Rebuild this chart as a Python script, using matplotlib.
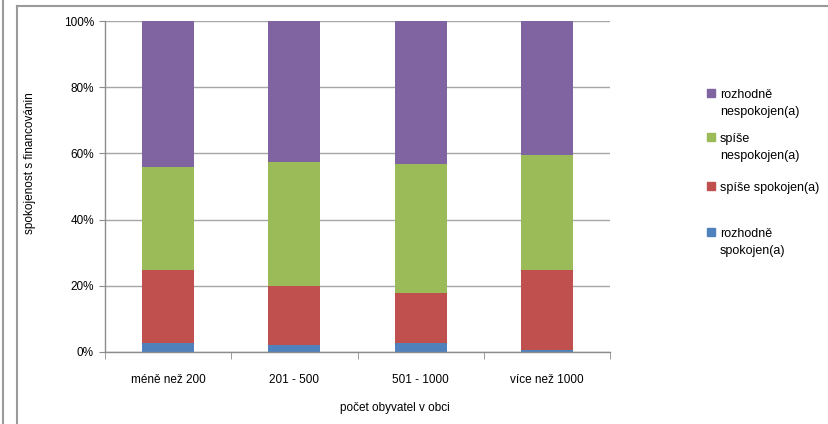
import matplotlib
matplotlib.use('Agg')
import matplotlib.pyplot as plt
import numpy as np
from matplotlib.lines import Line2D
from matplotlib.patches import Rectangle
from matplotlib.ticker import FixedLocator, PercentFormatter

plt.rcParams['font.family'] = ['Liberation Sans', 'DejaVu Sans']
plt.rcParams['font.size'] = 8.5

# data (percent)
categories = ['méně než 200', '201 - 500', '501 - 1000', 'více než 1000']
rozhodne_spokojen = [2.8, 2.1, 2.8, 0.7]
spise_spokojen = [22.0, 17.9, 15.0, 24.1]
spise_nespokojen = [31.1, 37.4, 39.0, 34.7]
rozhodne_nespokojen = [44.1, 42.6, 43.2, 40.5]

series = [
    ('rozhodně\nspokojen(a)', rozhodne_spokojen, '#4F81BD'),
    ('spíše spokojen(a)', spise_spokojen, '#C0504D'),
    ('spíše\nnespokojen(a)', spise_nespokojen, '#9BBB59'),
    ('rozhodně\nnespokojen(a)', rozhodne_nespokojen, '#8064A2'),
]

W, H = 829, 424
fig = plt.figure(figsize=(W / 100, H / 100), dpi=100)
ax = fig.add_axes([105 / W, 1 - 352 / H, 505 / W, 331 / H])

x = np.arange(len(categories))
bottom = np.zeros(len(categories))
for label, vals, color in series:
    ax.bar(x, vals, width=0.41, bottom=bottom, color=color, label=label, zorder=2)
    bottom += np.array(vals)

gray = '#8c8c8c'
ax.set_xlim(-0.5, len(categories) - 0.5)
ax.set_ylim(0, 100)
ax.set_yticks([0, 20, 40, 60, 80, 100])
ax.yaxis.set_major_formatter(PercentFormatter(decimals=0))
ax.set_xticks(x)
ax.set_xticklabels(categories)
ax.xaxis.set_minor_locator(FixedLocator(np.arange(-0.5, len(categories), 1)))
ax.tick_params(axis='x', which='major', length=0, pad=16)
ax.tick_params(axis='x', which='minor', length=5, color=gray, direction='out')
ax.tick_params(axis='y', length=4, color=gray, direction='out', pad=4)
ax.grid(axis='y', color='#a6a6a6', linewidth=1, zorder=0)
ax.set_axisbelow(True)
for s in ['top', 'right']:
    ax.spines[s].set_visible(False)
for s in ['left', 'bottom']:
    ax.spines[s].set_color(gray)
    ax.spines[s].set_linewidth(1)

fig.text(395 / W, 1 - 408 / H, 'počet obyvatel v obci', ha='center', va='center')
fig.text(30 / W, 1 - 163 / H, 'spokojenost s financovánin', rotation=90,
         ha='center', va='center')

# legend, drawn by hand so the swatch sits on the first text line
legend_rows = [93, 137, 186, 232]
for (label, vals, color), yrow in zip(series[::-1], legend_rows):
    fig.add_artist(Rectangle((707 / W, 1 - (yrow + 4) / H), 8 / W, 8 / H,
                             transform=fig.transFigure, color=color))
    fig.text(720 / W, 1 - (yrow - 4) / H, label, ha='left', va='top',
             fontsize=9, linespacing=1.55)

# chart frame lines
fig.add_artist(Line2D([3 / W, 3 / W], [0, 1], color='#9a9a9a', lw=1.5))
fig.add_artist(Line2D([17 / W, 17 / W], [0, 1 - 6 / H], color='#9a9a9a', lw=1.5))
fig.add_artist(Line2D([17 / W, 1], [1 - 6 / H, 1 - 6 / H], color='#9a9a9a', lw=1.5))

fig.savefig('out.png', dpi=100)
